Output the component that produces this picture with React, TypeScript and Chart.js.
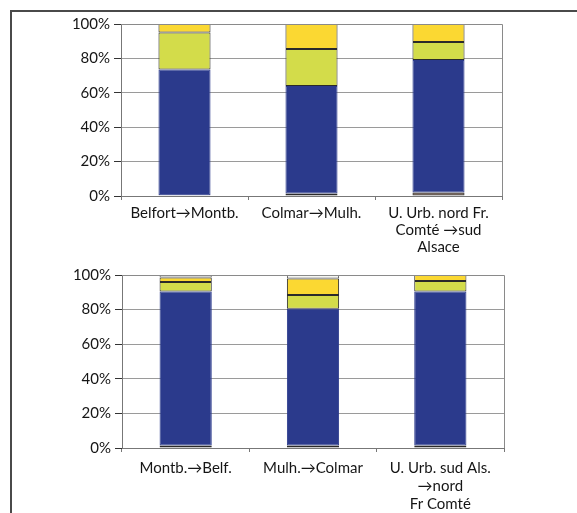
import React, { useEffect, useRef } from "react";
import { Chart, registerables } from "chart.js";

Chart.register(...registerables);

// ---- Data ----
const categoriesTop: (string | string[])[] = [
  "Belfort→Montb.",
  "Colmar→Mulh.",
  ["U. Urb. nord Fr.", "Comté →sud", "Alsace"],
];
const brownTop = [0.5, 1.5, 2];
const blueTop = [73, 62.5, 77];
const limeTop = [21.5, 21.5, 10.5];
const yellowTop = [5, 14.5, 10.5];
const otherTop = [0, 0, 0];

const categoriesBottom: (string | string[])[] = [
  "Montb.→Belf.",
  "Mulh.→Colmar",
  ["U. Urb. sud Als.", "→nord", "Fr Comté"],
];
const brownBottom = [1.5, 1.5, 1.5];
const blueBottom = [89, 79, 89];
const limeBottom = [5.5, 8, 6];
const yellowBottom = [2.5, 9.5, 3.5];
const otherBottom = [1.5, 2, 0];

const yTickLabels = ["0%", "20%", "40%", "60%", "80%", "100%"];

const COLORS = {
  brown: "#4a3222",
  blue: "#2b3a8c",
  lime: "#d3dc4a",
  yellow: "#fbd832",
  other: "#f6f6f2",
};

const FONT = "Lato, 'Open Sans', sans-serif";

const plotBorder = {
  id: "plotBorder",
  afterDraw(chart: any) {
    const { ctx, chartArea } = chart;
    ctx.save();
    ctx.strokeStyle = "#8a8a8a";
    ctx.lineWidth = 1;
    ctx.beginPath();
    ctx.moveTo(chartArea.left, chartArea.top + 0.5);
    ctx.lineTo(chartArea.right + 0.5, chartArea.top + 0.5);
    ctx.lineTo(chartArea.right + 0.5, chartArea.bottom);
    ctx.stroke();
    ctx.restore();
  },
};

type PanelProps = {
  categories: (string | string[])[];
  brown: number[];
  blue: number[];
  lime: number[];
  yellow: number[];
  other: number[];
  width: number;
  height: number;
  padTop: number;
  padRight: number;
  yWidth: number;
  xHeight: number;
  xPad: number;
  lineHeight: number;
};

function StackPanel(p: PanelProps) {
  const ref = useRef<HTMLCanvasElement | null>(null);
  useEffect(() => {
    if (!ref.current) return;
    const mk = (data: number[], color: string) => ({
      data,
      backgroundColor: color,
      borderColor: "#2a2a2a",
      borderWidth: 1,
      borderSkipped: false as any,
      barPercentage: 0.41,
      categoryPercentage: 1,
    });
    const chart = new Chart(ref.current, {
      type: "bar",
      data: {
        labels: p.categories as any,
        datasets: [
          { ...mk(p.brown, COLORS.brown), label: "brown" },
          { ...mk(p.blue, COLORS.blue), label: "blue", borderColor: COLORS.blue },
          { ...mk(p.lime, COLORS.lime), label: "lime" },
          { ...mk(p.yellow, COLORS.yellow), label: "yellow" },
          { ...mk(p.other, COLORS.other), label: "other", borderColor: "#555" },
        ],
      },
      options: {
        responsive: false,
        animation: false,
        devicePixelRatio: 1,
        layout: { padding: { top: p.padTop, right: p.padRight, left: 0, bottom: 0 } },
        plugins: { legend: { display: false }, tooltip: { enabled: false } },
        scales: {
          x: {
            stacked: true,
            grid: {
              display: true,
              drawOnChartArea: false,
              offset: true,
              tickLength: 4,
              color: "#777",
            },
            border: { display: true, color: "#777", width: 1 },
            ticks: {
              color: "#151515",
              font: { family: FONT, size: 15, lineHeight: p.lineHeight },
              padding: p.xPad,
              maxRotation: 0,
              autoSkip: false,
            },
            afterFit: (s: any) => {
              s.height = p.xHeight;
            },
          },
          y: {
            stacked: true,
            min: 0,
            max: 100,
            ticks: {
              stepSize: 20,
              color: "#151515",
              font: { family: FONT, size: 15 },
              padding: 4,
              callback: (_v: any, i: number) => yTickLabels[i],
            },
            grid: {
              color: "#9a9a9a",
              tickColor: "#333",
              tickLength: 7,
              lineWidth: 1,
            },
            border: { display: true, color: "#777", width: 1 },
            afterFit: (s: any) => {
              s.width = p.yWidth;
            },
          },
        },
      },
      plugins: [plotBorder],
    });
    return () => chart.destroy();
  }, []);
  return <canvas ref={ref} width={p.width} height={p.height} style={{ display: "block", width: p.width, height: p.height }} />;
}

export default function App() {
  return (
    <div style={{ position: "fixed", left: 0, top: 0, width: 577, height: 513, background: "#fff", overflow: "hidden" }}>
      <div
        style={{
          position: "absolute",
          left: 10,
          top: 10,
          width: 580,
          height: 520,
          borderLeft: "2px solid #4a4a4a",
          borderTop: "2px solid #4a4a4a",
        }}
      />
      <div style={{ position: "absolute", left: 0, top: 0 }}>
        <StackPanel
          categories={categoriesTop}
          brown={brownTop}
          blue={blueTop}
          lime={limeTop}
          yellow={yellowTop}
          other={otherTop}
          width={577}
          height={262}
          padTop={24}
          padRight={75}
          yWidth={121}
          xHeight={66}
          xPad={5}
          lineHeight={1.13}
        />
      </div>
      <div style={{ position: "absolute", left: 0, top: 262 }}>
        <StackPanel
          categories={categoriesBottom}
          brown={brownBottom}
          blue={blueBottom}
          lime={limeBottom}
          yellow={yellowBottom}
          other={otherBottom}
          width={577}
          height={251}
          padTop={13}
          padRight={73}
          yWidth={122}
          xHeight={65}
          xPad={7}
          lineHeight={1.2}
        />
      </div>
    </div>
  );
}
